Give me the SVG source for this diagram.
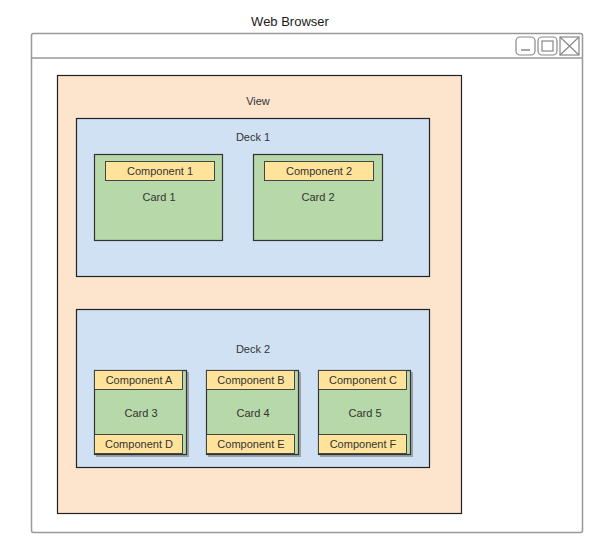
<svg xmlns="http://www.w3.org/2000/svg" width="600" height="550" viewBox="0 0 600 550">
<style>
text{font-family:"Liberation Sans",Arial,sans-serif;font-size:11px;fill:#333;text-anchor:middle}
.title{font-size:13px;fill:#1a1a1a}
.frame{fill:#fff;stroke:#999;stroke-width:1.5}
.btn{fill:#fff;stroke:#888;stroke-width:1.2}
.view{fill:#fce4cd;stroke:#222;stroke-width:1.2}
.deck{fill:#cfe1f3;stroke:#222;stroke-width:1.2}
.card{fill:#b7d8a8;stroke:#333;stroke-width:1.2}
.shadow{fill:#666;opacity:0.5}
.comp{fill:#ffe39b;stroke:#444;stroke-width:1}
</style>
<g id="browser">
<rect class="frame" x="31.5" y="33.5" width="551" height="499" rx="2"/>
<line x1="31.5" y1="58" x2="582.5" y2="58" stroke="#999" stroke-width="1.5"/>
<rect class="btn" x="516" y="37" width="19" height="18" rx="4"/>
<line x1="521" y1="50" x2="530" y2="50" stroke="#888" stroke-width="1.5"/>
<rect class="btn" x="538" y="37" width="19" height="18" rx="4"/>
<rect x="542" y="41" width="11" height="10" fill="none" stroke="#888" stroke-width="1.2"/>
<rect class="btn" x="560" y="37" width="19" height="18"/>
<path d="M560 37 L579 55 M579 37 L560 55" stroke="#888" stroke-width="1.2"/>
<text class="title" x="290" y="26">Web Browser</text>
</g>
<g id="view">
<rect class="view" x="57.5" y="75.5" width="404" height="438"/>
<text x="258" y="105">View</text>
</g>
<g id="deck1">
<rect class="deck" x="76.5" y="118.5" width="353" height="158"/>
<text x="253" y="141">Deck 1</text>
</g>
<g id="card1">
<rect class="card" x="94.5" y="154.5" width="128" height="86"/>
<rect class="comp" x="105.5" y="161.5" width="109" height="19"/>
<text x="160" y="175">Component 1</text>
<text x="159" y="201">Card  1</text>
</g>
<g id="card2">
<rect class="card" x="253.5" y="154.5" width="129" height="86"/>
<rect class="comp" x="264.5" y="161.5" width="109" height="19"/>
<text x="319" y="175">Component 2</text>
<text x="318" y="201">Card 2</text>
</g>
<g id="deck2">
<rect class="deck" x="76.5" y="309.5" width="353" height="158"/>
<text x="253" y="353">Deck 2</text>
</g>
<g id="card3">
<rect class="shadow" x="96" y="372" width="93" height="85"/>
<rect class="card" x="94.5" y="370.5" width="92" height="84"/>
<rect class="comp" x="94.5" y="370.5" width="88" height="19"/>
<text x="139" y="384">Component A</text>
<text x="141" y="417">Card 3</text>
<rect class="comp" x="94.5" y="434.5" width="88" height="19"/>
<text x="139" y="448">Component D</text>
</g>
<g id="card4">
<rect class="shadow" x="208" y="372" width="93" height="85"/>
<rect class="card" x="206.5" y="370.5" width="92" height="84"/>
<rect class="comp" x="206.5" y="370.5" width="88" height="19"/>
<text x="251" y="384">Component B</text>
<text x="253" y="417">Card 4</text>
<rect class="comp" x="206.5" y="434.5" width="88" height="19"/>
<text x="251" y="448">Component E</text>
</g>
<g id="card5">
<rect class="shadow" x="320" y="372" width="93" height="85"/>
<rect class="card" x="318.5" y="370.5" width="92" height="84"/>
<rect class="comp" x="318.5" y="370.5" width="88" height="19"/>
<text x="363" y="384">Component C</text>
<text x="365" y="417">Card  5</text>
<rect class="comp" x="318.5" y="434.5" width="88" height="19"/>
<text x="363" y="448">Component F</text>
</g>
<g id="connectors"/>
</svg>
